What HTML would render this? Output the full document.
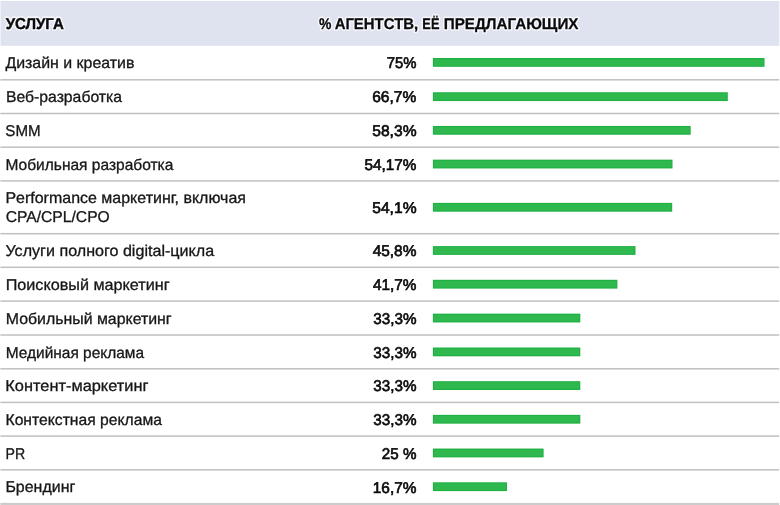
<!DOCTYPE html>
<html lang="ru"><head><meta charset="utf-8"><title>Услуги агентств</title>
<style>
html,body{margin:0;padding:0;background:#fff;}
body{width:780px;height:505px;overflow:hidden;font-family:"Liberation Sans",sans-serif;}
svg{display:block;position:absolute;left:0;top:0;}
text{font-family:"Liberation Sans",sans-serif;text-rendering:geometricPrecision;}
.h{font-weight:bold;font-size:15.5px;fill:#0a0a0a;stroke:#0a0a0a;stroke-width:0.25px;}
.l{font-size:15.6px;fill:#161616;stroke:#161616;stroke-width:0.3px;}
.n{font-size:15.5px;fill:#0a0a0a;stroke:#0a0a0a;stroke-width:0.65px;}
</style></head><body>
<svg width="780" height="505" viewBox="0 0 780 505">
<rect x="0" y="0" width="780" height="505" fill="#ffffff"/>
<rect x="0.5" y="0.9" width="778.8" height="44.9" fill="#dfe3f0"/>
<rect x="0.4" y="79.05" width="778.8" height="1.5" fill="#c0c0c0"/>
<rect x="432.9" y="58.00" width="331.6" height="8.8" fill="#1fb042"/>
<rect x="433.8" y="59.10" width="329.7" height="6.6" fill="#2eb84e"/>
<rect x="0.4" y="112.75" width="778.8" height="1.5" fill="#c0c0c0"/>
<rect x="432.9" y="92.25" width="294.9" height="8.8" fill="#1fb042"/>
<rect x="433.8" y="93.35" width="293.0" height="6.6" fill="#2eb84e"/>
<rect x="0.4" y="146.45" width="778.8" height="1.5" fill="#c0c0c0"/>
<rect x="432.9" y="125.95" width="257.8" height="8.8" fill="#1fb042"/>
<rect x="433.8" y="127.05" width="255.9" height="6.6" fill="#2eb84e"/>
<rect x="0.4" y="180.15" width="778.8" height="1.5" fill="#c0c0c0"/>
<rect x="432.9" y="159.65" width="239.6" height="8.8" fill="#1fb042"/>
<rect x="433.8" y="160.75" width="237.7" height="6.6" fill="#2eb84e"/>
<rect x="0.4" y="232.95" width="778.8" height="1.5" fill="#c0c0c0"/>
<rect x="432.9" y="202.90" width="239.3" height="8.8" fill="#1fb042"/>
<rect x="433.8" y="204.00" width="237.4" height="6.6" fill="#2eb84e"/>
<rect x="0.4" y="266.55" width="778.8" height="1.5" fill="#c0c0c0"/>
<rect x="432.9" y="246.10" width="202.6" height="8.8" fill="#1fb042"/>
<rect x="433.8" y="247.20" width="200.7" height="6.6" fill="#2eb84e"/>
<rect x="0.4" y="300.35" width="778.8" height="1.5" fill="#c0c0c0"/>
<rect x="432.9" y="279.80" width="184.5" height="8.8" fill="#1fb042"/>
<rect x="433.8" y="280.90" width="182.6" height="6.6" fill="#2eb84e"/>
<rect x="0.4" y="334.25" width="778.8" height="1.5" fill="#c0c0c0"/>
<rect x="432.9" y="313.65" width="147.4" height="8.8" fill="#1fb042"/>
<rect x="433.8" y="314.75" width="145.5" height="6.6" fill="#2eb84e"/>
<rect x="0.4" y="368.05" width="778.8" height="1.5" fill="#c0c0c0"/>
<rect x="432.9" y="347.50" width="147.4" height="8.8" fill="#1fb042"/>
<rect x="433.8" y="348.60" width="145.5" height="6.6" fill="#2eb84e"/>
<rect x="0.4" y="401.65" width="778.8" height="1.5" fill="#c0c0c0"/>
<rect x="432.9" y="381.20" width="147.4" height="8.8" fill="#1fb042"/>
<rect x="433.8" y="382.30" width="145.5" height="6.6" fill="#2eb84e"/>
<rect x="0.4" y="435.35" width="778.8" height="1.5" fill="#c0c0c0"/>
<rect x="432.9" y="414.85" width="147.4" height="8.8" fill="#1fb042"/>
<rect x="433.8" y="415.95" width="145.5" height="6.6" fill="#2eb84e"/>
<rect x="0.4" y="469.05" width="778.8" height="1.5" fill="#c0c0c0"/>
<rect x="432.9" y="448.55" width="110.7" height="8.8" fill="#1fb042"/>
<rect x="433.8" y="449.65" width="108.8" height="6.6" fill="#2eb84e"/>
<rect x="0.4" y="502.85" width="778.8" height="3" fill="#cccccc"/>
<rect x="432.9" y="482.30" width="74.1" height="8.8" fill="#1fb042"/>
<rect x="433.8" y="483.40" width="72.2" height="6.6" fill="#2eb84e"/>
<g style="will-change:transform">
<text class="h" style="font-size:15.8px;fill:#f6f7fc;stroke:#f6f7fc;stroke-width:3.4px;stroke-linejoin:round" x="5.67" y="28.90" textLength="58.12" lengthAdjust="spacingAndGlyphs">УСЛУГА</text>
<text class="h" style="fill:#f6f7fc;stroke:#f6f7fc;stroke-width:3.4px;stroke-linejoin:round" x="319.03" y="28.95" textLength="12.41" lengthAdjust="spacingAndGlyphs">%</text>
<text class="h" style="fill:#f6f7fc;stroke:#f6f7fc;stroke-width:3.4px;stroke-linejoin:round" x="334.63" y="28.95" textLength="83.57" lengthAdjust="spacingAndGlyphs">АГЕНТСТВ,</text>
<text class="h" style="fill:#f6f7fc;stroke:#f6f7fc;stroke-width:3.4px;stroke-linejoin:round" x="422.33" y="28.95" textLength="17.13" lengthAdjust="spacingAndGlyphs">ЕЁ</text>
<text class="h" style="fill:#f6f7fc;stroke:#f6f7fc;stroke-width:3.4px;stroke-linejoin:round" x="443.75" y="28.95" textLength="134.74" lengthAdjust="spacingAndGlyphs">ПРЕДЛАГАЮЩИХ</text>
<text class="h" style="font-size:15.8px;stroke-width:0.4px" x="5.67" y="28.90" textLength="58.12" lengthAdjust="spacingAndGlyphs">УСЛУГА</text>
<text class="h" x="319.03" y="28.95" textLength="12.41" lengthAdjust="spacingAndGlyphs">%</text>
<text class="h" x="334.63" y="28.95" textLength="83.57" lengthAdjust="spacingAndGlyphs">АГЕНТСТВ,</text>
<text class="h" x="422.33" y="28.95" textLength="17.13" lengthAdjust="spacingAndGlyphs">ЕЁ</text>
<text class="h" x="443.75" y="28.95" textLength="134.74" lengthAdjust="spacingAndGlyphs">ПРЕДЛАГАЮЩИХ</text>
<text class="l" x="5.40" y="68.00" textLength="129.02" lengthAdjust="spacingAndGlyphs">Дизайн и креатив</text>
<text class="l" x="5.91" y="102.25" textLength="116.15" lengthAdjust="spacingAndGlyphs">Веб-разработка</text>
<text class="l" x="5.34" y="135.95" textLength="35.33" lengthAdjust="spacingAndGlyphs">SMM</text>
<text class="l" x="5.49" y="169.65" textLength="167.81" lengthAdjust="spacingAndGlyphs">Мобильная разработка</text>
<text class="l" x="5.42" y="203.40" textLength="240.56" lengthAdjust="spacingAndGlyphs">Performance маркетинг, включая</text>
<text class="l" x="5.72" y="222.10" textLength="104.02" lengthAdjust="spacingAndGlyphs">CPA/CPL/CPO</text>
<text class="l" x="5.46" y="256.10" textLength="208.67" lengthAdjust="spacingAndGlyphs">Услуги полного digital-цикла</text>
<text class="l" x="5.71" y="289.80" textLength="163.91" lengthAdjust="spacingAndGlyphs">Поисковый маркетинг</text>
<text class="l" x="5.76" y="323.65" textLength="165.89" lengthAdjust="spacingAndGlyphs">Мобильный маркетинг</text>
<text class="l" x="5.65" y="357.50" textLength="138.46" lengthAdjust="spacingAndGlyphs">Медийная реклама</text>
<text class="l" x="5.30" y="391.20" textLength="143.12" lengthAdjust="spacingAndGlyphs">Контент-маркетинг</text>
<text class="l" x="5.50" y="424.85" textLength="156.42" lengthAdjust="spacingAndGlyphs">Контекстная реклама</text>
<text class="l" x="5.53" y="458.55" textLength="19.67" lengthAdjust="spacingAndGlyphs">PR</text>
<text class="l" x="5.42" y="492.30" textLength="69.86" lengthAdjust="spacingAndGlyphs">Брендинг</text>
<text class="n" x="386.63" y="68.20" textLength="29.74" lengthAdjust="spacingAndGlyphs">75%</text>
<text class="n" x="372.19" y="102.45" textLength="44.04" lengthAdjust="spacingAndGlyphs">66,7%</text>
<text class="n" x="372.25" y="136.15" textLength="44.29" lengthAdjust="spacingAndGlyphs">58,3%</text>
<text class="n" x="364.60" y="169.85" textLength="51.84" lengthAdjust="spacingAndGlyphs">54,17%</text>
<text class="n" x="372.25" y="213.10" textLength="44.29" lengthAdjust="spacingAndGlyphs">54,1%</text>
<text class="n" x="372.65" y="256.30" textLength="43.80" lengthAdjust="spacingAndGlyphs">45,8%</text>
<text class="n" x="373.08" y="290.00" textLength="43.39" lengthAdjust="spacingAndGlyphs">41,7%</text>
<text class="n" x="373.28" y="323.85" textLength="43.23" lengthAdjust="spacingAndGlyphs">33,3%</text>
<text class="n" x="373.28" y="357.70" textLength="43.23" lengthAdjust="spacingAndGlyphs">33,3%</text>
<text class="n" x="373.28" y="391.40" textLength="43.23" lengthAdjust="spacingAndGlyphs">33,3%</text>
<text class="n" x="373.28" y="425.05" textLength="43.23" lengthAdjust="spacingAndGlyphs">33,3%</text>
<text class="n" x="381.79" y="458.75" textLength="34.60" lengthAdjust="spacingAndGlyphs">25 %</text>
<text class="n" x="372.78" y="492.50" textLength="43.67" lengthAdjust="spacingAndGlyphs">16,7%</text>
</g>
</svg>
</body></html>
